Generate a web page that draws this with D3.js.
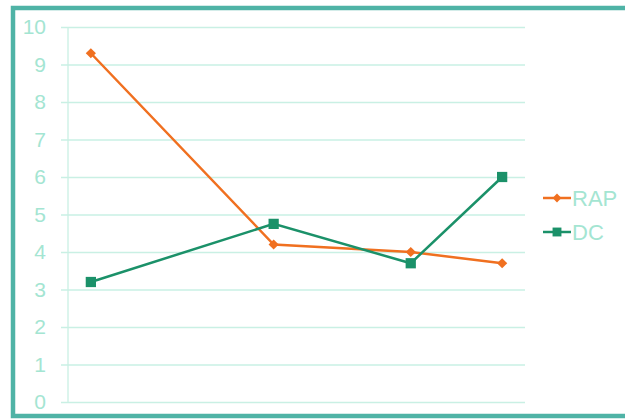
<!DOCTYPE html>
<html lang="en">
  <head>
    <meta charset="UTF-8" />
    <title>RAP vs DC</title>
    <style type="text/css">
      html,
      body {
        margin: 0;
        padding: 0;
        background: #fff;
        font-family: "Liberation Sans", Arial, sans-serif;
      }
    </style>
  </head>
  <body>
    <div id="chart"></div>
    <script src="https://cdn.jsdelivr.net/npm/d3@7/dist/d3.min.js"></script>
    <script>
      // === Data === //

      var xValues = [1, 5, 8, 10];
      var rapValues = [9.3, 4.2, 4.0, 3.7];
      var dcValues = [3.2, 4.75, 3.7, 6.0];
      var yTicks = [0, 1, 2, 3, 4, 5, 6, 7, 8, 9, 10];
      var seriesNames = ["RAP", "DC"];

      var width = 625,
        height = 420;

      var plot = { left: 68, right: 525, top: 27, bottom: 402 };

      var colors = { RAP: "#f07020", DC: "#1b9169" };
      var gridColor = "#c9f0e4";
      var labelColor = "#a4e5d2";

      var svg = d3
        .select("#chart")
        .append("svg")
        .attr("width", width)
        .attr("height", height);

      // frame
      svg
        .append("rect")
        .attr("x", 13)
        .attr("y", 8)
        .attr("width", 640)
        .attr("height", 408)
        .attr("fill", "#fff")
        .attr("stroke", "#4fb3a6")
        .attr("stroke-width", 4.5);

      var x = d3
        .scaleLinear()
        .domain([0.5, 10.5])
        .range([plot.left, plot.right]);

      var y = d3
        .scaleLinear()
        .domain([0, 10])
        .range([plot.bottom, plot.top]);

      // gridlines + y labels
      var yAxis = d3
        .axisLeft(y)
        .tickValues(yTicks)
        .tickSize(-(plot.right - plot.left) - 7)
        .tickPadding(15)
        .tickFormat(d3.format("d"));

      var gy = svg
        .append("g")
        .attr("transform", "translate(" + (plot.left - 7) + ",0)")
        .call(yAxis);

      gy.select(".domain").remove();
      gy.selectAll(".tick line")
        .attr("stroke", gridColor)
        .attr("stroke-width", 1.3);
      gy.selectAll(".tick text")
        .attr("fill", labelColor)
        .attr("font-size", 21)
        .attr("font-family", "Liberation Sans, Arial, sans-serif");

      // vertical axis line
      svg
        .append("line")
        .attr("x1", plot.left)
        .attr("x2", plot.left)
        .attr("y1", y(10))
        .attr("y2", y(0))
        .attr("stroke", gridColor)
        .attr("stroke-width", 1.3);

      // === Series === //

      // RAP marker is a square turned 45 degrees
      var series = [
        { name: "RAP", values: rapValues, shape: d3.symbolSquare, size: 52, rotate: 45 },
        { name: "DC", values: dcValues, shape: d3.symbolSquare, size: 105, rotate: 0 }
      ];

      var line = d3
        .line()
        .x(function(d) {
          return x(d.x);
        })
        .y(function(d) {
          return y(d.y);
        });

      series.forEach(function(s) {
        var pts = s.values.map(function(v, i) {
          return { x: xValues[i], y: v };
        });

        svg
          .append("path")
          .datum(pts)
          .attr("d", line)
          .attr("fill", "none")
          .attr("stroke", colors[s.name])
          .attr("stroke-width", 2.5);

        svg
          .selectAll(null)
          .data(pts)
          .enter()
          .append("path")
          .attr("d", d3.symbol().type(s.shape).size(s.size))
          .attr("transform", function(d) {
            return "translate(" + x(d.x) + "," + y(d.y) + ") rotate(" + s.rotate + ")";
          })
          .attr("fill", colors[s.name]);
      });

      // === Legend === //

      var legend = svg
        .selectAll("g.legend")
        .data(series)
        .enter()
        .append("g")
        .attr("class", "legend")
        .attr("transform", function(d, i) {
          return "translate(543," + (198 + i * 34) + ")";
        });

      legend
        .append("line")
        .attr("x1", 0)
        .attr("x2", 28)
        .attr("stroke", function(d) {
          return colors[d.name];
        })
        .attr("stroke-width", 2.5);

      legend
        .append("path")
        .attr("d", function(d) {
          return d3.symbol().type(d.shape).size(d.size * 0.75)();
        })
        .attr("transform", function(d) {
          return "translate(14,0) rotate(" + d.rotate + ")";
        })
        .attr("fill", function(d) {
          return colors[d.name];
        });

      legend
        .append("text")
        .attr("x", 29)
        .attr("dy", "0.36em")
        .attr("fill", labelColor)
        .attr("font-size", 22)
        .text(function(d) {
          return d.name;
        });
    </script>
  </body>
</html>
